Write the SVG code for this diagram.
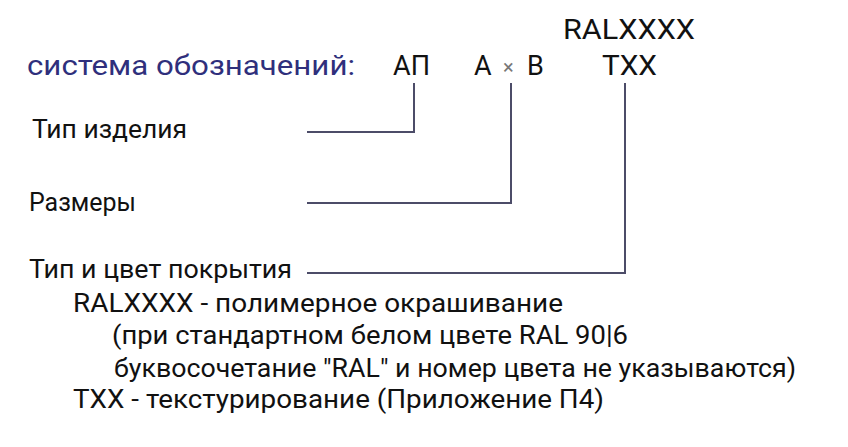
<svg xmlns="http://www.w3.org/2000/svg" width="848" height="447" viewBox="0 0 848 447">
<style>
text{font-family:Roboto,"Noto Sans",sans-serif;fill:#111;}
.t{font-size:26px;}
.title{font-size:28px;fill:#2f2f7c;}
.top{font-size:27px;}
.conn{fill:none;stroke:#4c4c68;stroke-width:2;}
</style>
<rect width="848" height="447" fill="#fff"/>
<g id="header">
<text class="title" x="27" y="75" textLength="328" lengthAdjust="spacingAndGlyphs">система обозначений:</text>
</g>
<g id="node-ap"><text class="top" x="393" y="75" textLength="37" lengthAdjust="spacingAndGlyphs">АП</text></g>
<g id="node-axb"><text class="top" x="474" y="75">A</text><text x="503" y="74" style="font-size:20px;fill:#777">×</text><text class="top" x="527" y="75">B</text></g>
<g id="node-ral"><text class="top" x="563" y="39" textLength="132" lengthAdjust="spacingAndGlyphs">RALXXXX</text></g>
<g id="node-txx"><text class="top" x="602" y="75" textLength="55" lengthAdjust="spacingAndGlyphs">TXX</text></g>
<g id="label-type"><text class="t" x="32" y="138" textLength="155" lengthAdjust="spacingAndGlyphs">Тип изделия</text></g>
<g id="label-size"><text class="t" x="29" y="211" textLength="107" lengthAdjust="spacingAndGlyphs">Размеры</text></g>
<g id="label-coat"><text class="t" x="29" y="278" textLength="263" lengthAdjust="spacingAndGlyphs">Тип и цвет покрытия</text></g>
<g id="notes">
<text class="t" x="73" y="312" textLength="490" lengthAdjust="spacingAndGlyphs">RALXXXX - полимерное окрашивание</text>
<text class="t" x="112" y="344" textLength="516" lengthAdjust="spacingAndGlyphs">(при стандартном белом цвете RAL 90|6</text>
<text class="t" x="114" y="377" textLength="682" lengthAdjust="spacingAndGlyphs">буквосочетание "RAL" и номер цвета не указываются)</text>
<text class="t" x="73" y="408" textLength="531" lengthAdjust="spacingAndGlyphs">TXX - текстурирование (Приложение П4)</text>
</g>
<g id="connectors">
<polyline class="conn" points="414,83 414,132 307,132"/>
<polyline class="conn" points="511,83 511,203 307,203"/>
<polyline class="conn" points="625,83 625,273 307,273"/>
</g>
</svg>
